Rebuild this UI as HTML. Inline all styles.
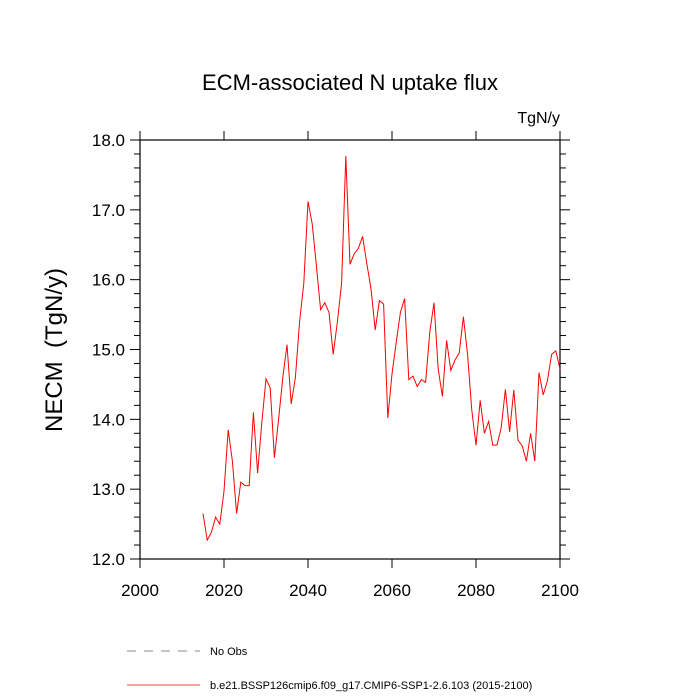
<!DOCTYPE html>
<html><head><meta charset="utf-8"><style>body{margin:0;background:#fff}svg{display:block;font-family:"Liberation Sans",sans-serif}</style></head>
<body>
<svg id="c" width="700" height="700">
<text x="350" y="90" font-size="22" text-anchor="middle">ECM-associated N uptake flux</text>
<text x="560" y="123" font-size="16" text-anchor="end">TgN/y</text>
<text transform="translate(62,350) rotate(-90)" font-size="24" text-anchor="middle" style="white-space:pre">NECM  (TgN/y)</text>
<g id="axes"></g>
<g id="series"></g>
<g>
<line x1="127" y1="651" x2="200" y2="651" stroke="#888" stroke-dasharray="9,8"/>
<text x="210" y="655" font-size="11">No Obs</text>
<line x1="127" y1="685" x2="200" y2="685" stroke="red" stroke-width="0.7"/>
<text x="210" y="689" font-size="11">b.e21.BSSP126cmip6.f09_g17.CMIP6-SSP1-2.6.103 (2015-2100)</text>
</g>
</svg>
<script>
const startYear = 2015;
const values = [12.65,12.27,12.38,12.6,12.5,12.97,13.85,13.4,12.65,13.1,13.05,13.05,14.1,13.23,13.95,14.58,14.45,13.45,14.0,14.6,15.07,14.22,14.6,15.4,15.95,17.12,16.8,16.2,15.57,15.67,15.53,14.93,15.4,15.95,17.77,16.22,16.37,16.45,16.62,16.23,15.87,15.28,15.7,15.65,14.02,14.65,15.1,15.53,15.73,14.57,14.62,14.47,14.57,14.53,15.25,15.67,14.72,14.33,15.13,14.7,14.85,14.95,15.47,14.92,14.13,13.63,14.27,13.8,13.97,13.63,13.63,13.88,14.43,13.82,14.42,13.7,13.62,13.4,13.8,13.4,14.67,14.35,14.55,14.93,14.98,14.72];
const xTicks = [2000,2020,2040,2060,2080,2100];
const yTicks = [12.0,13.0,14.0,15.0,16.0,17.0,18.0];
const L=140,R=560,T=140,B=559;
const x=v=>L+(v-2000)/100*(R-L);
const y=v=>B-(v-12)/6*(B-T);
const NS='http://www.w3.org/2000/svg';
function mk(tag,at,parent){const e=document.createElementNS(NS,tag);for(const k in at)e.setAttribute(k,at[k]);parent.appendChild(e);return e;}
const ax=document.getElementById('axes');
let fr=mk('rect',{x:L,y:T,width:R-L,height:B-T,fill:'none',stroke:'#000','stroke-width':1.2},ax);


xTicks.forEach(t=>{
  mk('line',{x1:x(t),x2:x(t),y1:B,y2:B+9,stroke:'#000'},ax);
  mk('line',{x1:x(t),x2:x(t),y1:T,y2:T-9,stroke:'#000'},ax);
  const tx=mk('text',{x:x(t),y:B+37,'font-size':17,'text-anchor':'middle'},ax);
  tx.textContent=t;
  
  
});
for(let v=12;v<=18.001;v+=0.2){
  const maj=Math.abs(v-Math.round(v))<0.01;
  const len=maj?10:6;
  mk('line',{x1:L-len,x2:L,y1:y(v),y2:y(v),stroke:'#000'},ax);
  mk('line',{x1:R,x2:R+len,y1:y(v),y2:y(v),stroke:'#000'},ax);
}
yTicks.forEach(t=>{
  const tx=mk('text',{x:L-15,y:y(t)+6,'font-size':17,'text-anchor':'end'},ax);
  tx.textContent=t.toFixed(1);
  
  
});
const pts=values.map((v,i)=>x(startYear+i)+','+y(v)).join(' ');
const pl=mk('polyline',{points:pts,fill:'none',stroke:'red','stroke-width':1},document.getElementById('series'));


</script>
</body></html>
